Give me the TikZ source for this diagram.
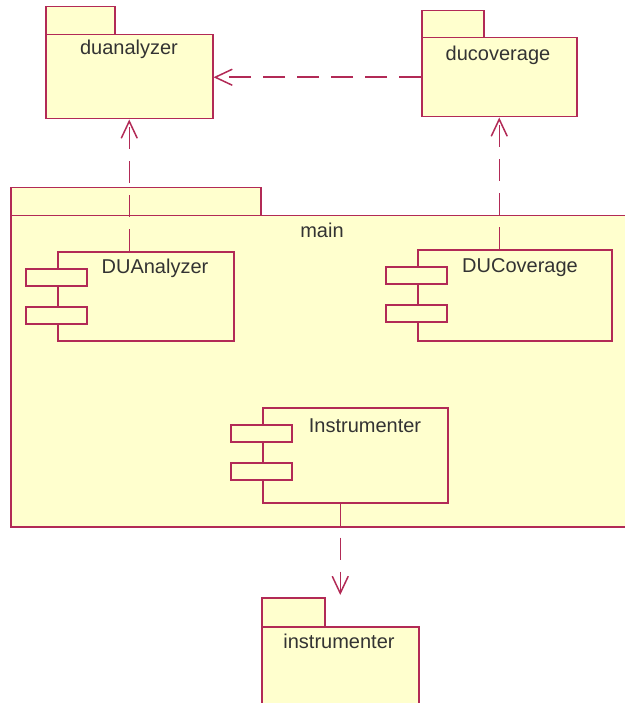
\documentclass[tikz,border=0pt]{standalone}
\usepackage{fontspec}
\setmainfont{Liberation Sans}
\usetikzlibrary{arrows.meta,calc,positioning}
\definecolor{umlline}{RGB}{178,42,86}
\definecolor{umlfill}{RGB}{255,255,206}
\definecolor{umltext}{RGB}{51,51,51}
\tikzset{
  pkgbox/.style={draw=umlline,fill=umlfill,line width=1.5pt,inner sep=0pt,anchor=north west},
  compbox/.style={draw=umlline,fill=umlfill,line width=1.5pt,inner sep=0pt,anchor=north west},
  lbl/.style={text=umltext,font=\fontsize{20}{24}\selectfont,anchor=base,inner sep=0pt},
  dep/.style={draw=umlline,line width=1.5pt,dash pattern=on 22pt off 12pt,
    -{Straight Barb[length=17pt,width=16pt,line width=1.5pt]}}
}

\begin{document}
\begin{tikzpicture}[x=1pt,y=-1pt]
  \useasboundingbox (0,0) rectangle (624,703);
  % packages
  \node[pkgbox,minimum width=69pt,minimum height=28pt] (duanalyzer-tab) at (45,6) {};
  \node[pkgbox,minimum width=167pt,minimum height=84pt] (duanalyzer) at (45,34) {};
  \node[lbl] (duanalyzer-name) at (129,55) {duanalyzer};
  \node[pkgbox,minimum width=62pt,minimum height=27pt] (ducoverage-tab) at (421,10) {};
  \node[pkgbox,minimum width=155pt,minimum height=79pt] (ducoverage) at (421,37) {};
  \node[lbl] (ducoverage-name) at (498,61) {ducoverage};
  \node[pkgbox,minimum width=250pt,minimum height=28pt] (main-tab) at (10,187) {};
  \node[pkgbox,minimum width=624pt,minimum height=311pt] (main) at (10,215) {};
  \node[lbl] (main-name) at (322,237) {main};
  \node[pkgbox,minimum width=63pt,minimum height=29pt] (instrumenter-tab) at (261,597) {};
  \node[pkgbox,minimum width=157pt,minimum height=77pt] (instrumenter) at (261,626) {};
  \node[lbl] (instrumenter-name) at (339,648) {instrumenter};
  % components inside main
  \node[compbox,minimum width=176pt,minimum height=89pt] (DUAnalyzer) at (57,251) {};
  \node[lbl] (DUAnalyzer-name) at (155,273) {DUAnalyzer};
  \node[compbox,minimum width=194pt,minimum height=91pt] (DUCoverage) at (417,249) {};
  \node[lbl] (DUCoverage-name) at (520,272) {DUCoverage};
  \node[compbox,minimum width=185pt,minimum height=95pt] (Instrumenter) at (262,407) {};
  \node[lbl] (Instrumenter-name) at (365,432) {Instrumenter};
  \foreach \c in {DUAnalyzer,DUCoverage,Instrumenter} {
    \foreach \dy in {18,56} {
      \draw[draw=umlline,fill=umlfill,line width=1.5pt]
        ($(\c.north west)+(-31,\dy)$) rectangle ++(61,17);
    }
  }
  % dependencies
  \draw[dep] (ducoverage.west) -- (ducoverage.west -| duanalyzer.east);
  \draw[dep] (DUAnalyzer.north -| duanalyzer.south) -- (duanalyzer.south);
  \draw[dep] (DUCoverage.north -| ducoverage.south) -- (ducoverage.south);
  \coordinate (instrumenter-top) at (instrumenter-tab.north -| instrumenter.north);
  \draw[dep] (Instrumenter.south -| instrumenter.north) -- ($(instrumenter-top)+(0,-2)$);
\end{tikzpicture}
\end{document}
